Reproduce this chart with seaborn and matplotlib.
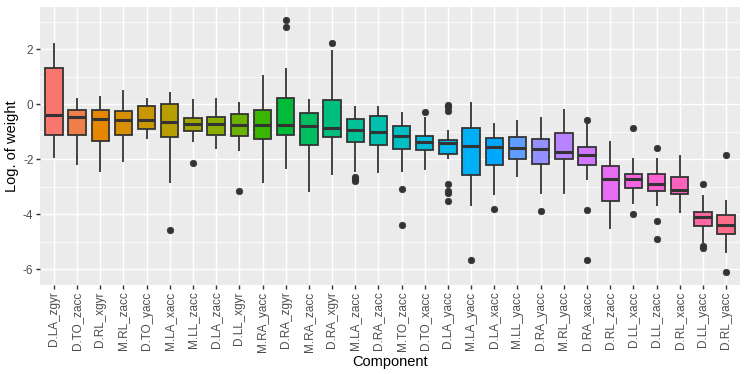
import numpy as np
import pandas as pd
import matplotlib
matplotlib.use("Agg")
import matplotlib.pyplot as plt
import seaborn as sns
from matplotlib.ticker import FixedLocator

components = ["D.LA_zgyr", "D.TO_zacc", "D.RL_xgyr", "M.RL_zacc", "D.TO_yacc",
              "M.LA_xacc", "M.LL_zacc", "D.LA_zacc", "D.LL_xgyr", "M.RA_yacc",
              "D.RA_zgyr", "M.RA_zacc", "D.RA_xgyr", "M.LA_zacc", "D.RA_zacc",
              "M.TO_zacc", "D.TO_xacc", "D.LA_yacc", "M.LA_yacc", "D.LA_xacc",
              "M.LL_yacc", "D.RA_yacc", "M.RL_yacc", "D.RA_xacc", "D.RL_zacc",
              "D.LL_xacc", "D.LL_zacc", "D.RL_xacc", "D.LL_yacc", "D.RL_yacc"]

whisker_high = [2.24, 0.24, 0.31, 0.51, 0.24, 0.44, 0.17, 0.22, 0.08, 1.06,
                1.33, 0.17, 1.98, -0.07, -0.07, -0.29, -0.46, -0.94, 0.08, -0.70,
                -0.56, -0.48, -0.16, -0.69, -1.35, -1.97, -1.96, -1.85, -3.31, -3.48]
q3 = [1.31, -0.22, -0.22, -0.25, -0.07, -0.01, -0.50, -0.48, -0.37, -0.21,
      0.24, -0.31, 0.15, -0.55, -0.42, -0.79, -1.16, -1.31, -0.87, -1.22,
      -1.21, -1.27, -1.05, -1.57, -2.25, -2.53, -2.55, -2.66, -3.92, -4.01]
median = [-0.40, -0.46, -0.54, -0.58, -0.58, -0.64, -0.73, -0.73, -0.76, -0.77,
          -0.77, -0.80, -0.86, -0.93, -1.00, -1.14, -1.39, -1.40, -1.52, -1.56,
          -1.60, -1.63, -1.73, -1.86, -2.73, -2.73, -2.89, -3.12, -4.10, -4.38]
q1 = [-1.11, -1.11, -1.33, -1.11, -0.89, -1.18, -0.96, -1.12, -1.17, -1.28,
      -1.12, -1.50, -1.18, -1.36, -1.48, -1.63, -1.68, -1.80, -2.59, -2.22,
      -1.98, -2.19, -1.98, -2.20, -3.51, -3.05, -3.17, -3.26, -4.41, -4.70]
whisker_low = [-1.95, -2.21, -2.45, -2.09, -1.28, -2.87, -1.37, -1.64, -1.70, -2.85,
               -2.36, -3.18, -2.56, -2.45, -2.50, -2.47, -2.38, -2.01, -3.70, -3.29,
               -2.65, -3.28, -3.25, -2.74, -4.52, -3.64, -3.69, -3.97, -5.05, -5.39]
outliers = [[], [], [], [], [],
            [-4.56], [-2.13], [], [-3.14], [],
            [3.07, 2.79], [], [2.24], [-2.63, -2.72, -2.80], [],
            [-3.08, -4.38], [-0.29], [-0.02, -0.11, -0.25, -2.89, -3.14, -3.24, -3.51], [-5.65], [-3.80],
            [], [-3.88], [], [-0.58, -3.85, -5.66], [],
            [-0.87, -3.98], [-1.58, -4.23, -4.91], [], [-2.91, -5.17, -5.23], [-1.84, -6.11]]

# Build a sample per component whose box statistics equal the values read above
rows = []
for name, lo, a, m, b, hi, outs in zip(components, whisker_low, q1, median, q3,
                                       whisker_high, outliers):
    below = [v for v in outs if v < m] + [lo]
    above = [hi] + [v for v in outs if v > m]
    k = max(len(below), len(above))
    below = below + [a] * (k - len(below))
    above = above + [b] * (k - len(above))
    vals = below + [a] + [a] * (k - 1) + [m] + [m] * (k - 1) + [b] + above
    rows += [(name, v) for v in vals]
df = pd.DataFrame(rows, columns=["Component", "value"])


def hcl_hex(h, c=100.0, l=65.0):
    hr = np.deg2rad(h)
    U, V = c * np.cos(hr), c * np.sin(hr)
    Xn, Yn, Zn = 95.047, 100.0, 108.883
    Y = Yn * ((l + 16) / 116) ** 3
    den = Xn + 15 * Yn + 3 * Zn
    un, vn = 4 * Xn / den, 9 * Yn / den
    u = U / (13 * l) + un
    v = V / (13 * l) + vn
    X = 9.0 * Y * u / (4 * v)
    Z = -X / 3 - 5 * Y + 3 * Y / v
    X, Y, Z = X / 100, Y / 100, Z / 100
    r = 3.240479 * X - 1.537150 * Y - 0.498535 * Z
    g = -0.969256 * X + 1.875992 * Y + 0.041556 * Z
    bb = 0.055648 * X - 0.204043 * Y + 1.057311 * Z
    out = []
    for t in (r, g, bb):
        t = 12.92 * t if t <= 0.0031308 else 1.055 * t ** (1 / 2.4) - 0.055
        out.append(min(max(t, 0), 1))
    return matplotlib.colors.to_hex(out)


n = len(components)
palette = [hcl_hex(h) for h in np.linspace(15, 375, n + 1)[:-1]]

plt.rcParams["font.family"] = ["Liberation Sans", "DejaVu Sans"]
plt.rcParams["axes.unicode_minus"] = False

DPI = 96
W, H = 747, 374
LW = 1.07   # ggplot linewidth 0.5 (grid / ticks)
BLW = 1.35  # box outline
fig = plt.figure(figsize=(W / DPI, H / DPI), dpi=DPI)
ax = fig.add_axes([40 / W, 1 - 285 / H, (740 - 40) / W, (285 - 7) / H])
ax.set_facecolor("#EBEBEB")
ax.set_axisbelow(True)

sns.boxplot(data=df, x="Component", y="value", hue="Component",
            order=components, hue_order=components, palette=palette,
            saturation=1, width=0.75, linecolor="#333333", linewidth=BLW,
            fliersize=4.9, showcaps=False, whis=1.5, legend=False,
            medianprops=dict(linewidth=2.3, color="#333333"),
            flierprops=dict(marker="o", markerfacecolor="#333333",
                            markeredgecolor="#333333", markeredgewidth=0.5),
            ax=ax)

ax.set_xlim(-0.6, n - 0.4)
ax.set_ylim(-6.57, 3.53)
ax.set_yticks([-6, -4, -2, 0, 2])
ax.set_yticklabels(["-6", "-4", "-2", "0", "2"])
ax.yaxis.set_minor_locator(FixedLocator([-5, -3, -1, 1, 3]))
ax.set_xticks(range(n))
ax.set_xticklabels(components, rotation=90)

ax.grid(which="major", color="white", linewidth=LW)
ax.grid(which="minor", axis="y", color="white", linewidth=LW / 2)
ax.tick_params(which="major", length=2.75, width=LW, color="#333333",
               labelsize=8.8, labelcolor="#4D4D4D", pad=2.2)
ax.tick_params(which="minor", length=0)
for s in ax.spines.values():
    s.set_visible(False)

ax.set_xlabel("Component", fontsize=11, color="black", labelpad=2.75)
ax.set_ylabel("Log. of weight", fontsize=11, color="black", labelpad=2.75)

fig.savefig("out.png", dpi=DPI)
